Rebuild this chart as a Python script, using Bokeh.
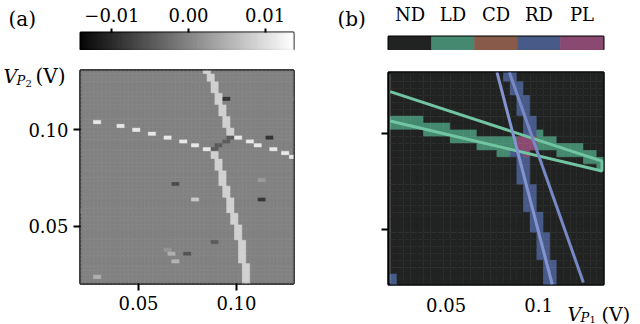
import numpy as np
from bokeh.plotting import figure
from bokeh.layouts import row, column
from bokeh.models import FixedTicker, ColumnDataSource, GridBox
from bokeh.core.properties import value
from bokeh.transform import linear_cmap
from bokeh.palettes import gray
from bokeh.embed import file_html
from bokeh.resources import INLINE

# ---------------- panel (a): measured map on a 56 x 56 grid ----------------
grid_start = 0.02      # V, first cell centre
grid_step = 0.002      # V
grid_n = 56
background_value = 0.0
cbar_low = -0.0141
cbar_high = 0.0137
cbar_ticks = [-0.01, 0.0, 0.01]
cbar_tick_labels = ["\u22120.01", "0.00", "0.01"]
axis_ticks_a = [0.05, 0.10]
axis_labels_a = ["0.05", "0.10"]

# steep transition line: 2-cell-wide segments (column index, row range)
line_col = [32, 33, 34, 35, 36, 37, 38, 34, 35, 36, 37, 38, 39, 40, 41, 42]
line_row_lo = [55, 53, 50, 47, 44, 41, 39, 33, 30, 26, 23, 19, 16, 12, 6, 0]
line_row_hi = [55, 54, 52, 49, 46, 43, 40, 34, 32, 29, 25, 22, 18, 15, 11, 5]
line_value = 0.0085

# shallow transition line: 2-cell-wide dashes (column index, row)
dash_col = [4, 10, 14, 18, 22, 26, 29, 32, 40, 43, 45, 49, 52, 54]
dash_row = [42, 41, 40, 39, 38, 37, 36, 35, 38, 37, 36, 35, 34, 33]
dash_value = 0.0112

# crossing region
cross_col = [34, 35, 37, 38]
cross_row = [35, 36, 37, 38]
cross_value = -0.0043

# isolated outliers
spot_col = [37, 48, 46, 46, 29, 34, 27, 24, 23, 24, 4, 22, 0, 55]
spot_row = [48, 38, 27, 22, 22, 11, 8, 26, 8, 6, 2, 9, 19, 48]
spot_cells = [2, 2, 2, 2, 2, 2, 2, 2, 2, 2, 2, 2, 1, 1]
spot_value = [-0.0085, -0.0085, 0.0027, -0.008, 0.0077, -0.0043, -0.005,
              -0.006, 0.005, 0.0055, 0.005, 0.002, 0.004, 0.004]

# ---------------- panel (b): classified map on a 32 x 32 grid ----------------
classes = ["ND", "LD", "CD", "RD", "PL"]
class_colors = ["#212322", "#458a70", "#875a4a", "#475a88", "#8a4970"]
b_x_start = 0.0199     # V, left edge of grid
b_y_top = 0.1344       # V, top edge of grid
b_step = 0.0036        # V
b_n = 32
# spans: (row from top, first column, last column)
ld_row = [7, 8, 8, 9, 9, 10, 10, 11, 12, 9, 10, 11, 11, 12, 12, 13, 13, 14]
ld_lo = [0, 0, 5, 5, 9, 9, 13, 13, 16, 22, 22, 22, 25, 25, 29, 29, 31, 31]
ld_hi = [4, 4, 8, 8, 12, 12, 18, 18, 17, 22, 24, 24, 28, 28, 30, 30, 31, 31]
rd_row = [0, 1, 2, 3, 4, 5, 6, 7, 8, 9, 12, 13, 14, 15, 16, 17, 18, 19, 20,
          21, 22, 23, 24, 25, 26, 27, 28, 29, 30, 31, 30, 31]
rd_lo = [17, 17, 18, 18, 19, 19, 19, 20, 20, 20, 18, 19, 19, 19, 19, 20, 20, 20, 20,
         21, 21, 21, 22, 22, 22, 22, 23, 23, 23, 23, 0, 0]
rd_hi = [18, 18, 19, 19, 20, 20, 20, 21, 21, 21, 19, 20, 20, 20, 20, 21, 21, 21, 21,
         22, 22, 22, 23, 23, 23, 23, 24, 24, 24, 24, 0, 0]
pl_row = [10, 11, 12]
pl_lo = [19, 19, 20]
pl_hi = [21, 21, 20]

# fitted lines
ld_line_vp1 = [0.0198, 0.1343, 0.1343, 0.0198]
ld_line_vp2 = [0.1221, 0.0856, 0.0804, 0.1067]
rd_line_a_vp1 = [0.0775, 0.1074]
rd_line_a_vp2 = [0.1323, 0.0209]
rd_line_b_vp1 = [0.0842, 0.1242]
rd_line_b_vp2 = [0.1323, 0.0220]
axis_ticks_b = [0.05, 0.1]
axis_labels_b = ["0.05", "0.1"]

FONT = "DejaVu Serif"
TICK_SIZE = "18px"


def base_style(p):
    p.xgrid.grid_line_color = None
    p.ygrid.grid_line_color = None
    p.outline_line_color = "black"
    p.outline_line_width = 2.5
    p.outline_line_alpha = 1.0
    p.border_fill_color = "white"


def style_axis(ax, ticks, labels, tick_out=7, show_ticks=True, standoff=5):
    ax.ticker = FixedTicker(ticks=ticks)
    ax.major_label_overrides = dict(zip(ticks, labels))
    ax.axis_line_color = None
    ax.minor_tick_line_color = None
    ax.major_tick_in = 0
    ax.major_tick_out = tick_out
    ax.major_tick_line_width = 2
    ax.major_tick_line_color = "black" if show_ticks else None
    ax.major_label_standoff = standoff
    ax.major_label_text_font = FONT
    ax.major_label_text_font_size = TICK_SIZE
    ax.major_label_text_color = "black"


# ---------- grid values (a) ----------
vals = np.full((grid_n, grid_n), background_value)
for c, lo, hi in zip(line_col, line_row_lo, line_row_hi):
    vals[lo:hi + 1, c:c + 2] = line_value
for c, r in zip(dash_col, dash_row):
    vals[r, c:c + 2] = dash_value
for c, r in zip(cross_col, cross_row):
    vals[r, c:c + 2] = cross_value
for c, r, w, v in zip(spot_col, spot_row, spot_cells, spot_value):
    vals[r, c:c + w] = v
ii, jj = np.meshgrid(np.arange(grid_n), np.arange(grid_n))
src_a = ColumnDataSource(dict(x=grid_start + ii.ravel() * grid_step,
                              y=grid_start + jj.ravel() * grid_step,
                              v=vals.ravel()))
cmap = linear_cmap("v", gray(256), cbar_low, cbar_high)

# colour bar (a)
cbA = figure(width=308, height=50, x_range=(cbar_low, cbar_high), y_range=(0, 1),
             x_axis_location="above", y_axis_location=None, toolbar_location=None,
             output_backend="svg", min_border_left=80, min_border_right=15,
             min_border_top=32, min_border_bottom=0)
base_style(cbA)
cbA.outline_line_width = 2
cb_vals = np.linspace(cbar_low, cbar_high, 256)
cbA.rect(x="v", y=0.5, width=(cbar_high - cbar_low) / 255, height=1,
         source=ColumnDataSource(dict(v=cb_vals)), fill_color=cmap, line_color=cmap,
         line_width=0.6)
style_axis(cbA.xaxis[0], cbar_ticks, cbar_tick_labels, tick_out=4, standoff=7)

# heat map (a)
heatA = figure(width=308, height=274, x_range=(0.0204, 0.1291), y_range=(0.0204, 0.1305),
               toolbar_location=None, output_backend="svg",
               min_border_left=80, min_border_right=15, min_border_top=20, min_border_bottom=41)
base_style(heatA)
heatA.rect(x="x", y="y", width=grid_step, height=grid_step, source=src_a,
           fill_color=cmap, line_color=cmap, line_width=0.6)
style_axis(heatA.xaxis[0], axis_ticks_a, axis_labels_a)
style_axis(heatA.yaxis[0], axis_ticks_a, axis_labels_a)

# ---------- class grid (b) ----------
cls = np.zeros((b_n, b_n), dtype=int)
for code, rows_, los, his in ((1, ld_row, ld_lo, ld_hi), (3, rd_row, rd_lo, rd_hi),
                              (4, pl_row, pl_lo, pl_hi)):
    for r, lo, hi in zip(rows_, los, his):
        cls[r, lo:hi + 1] = code
kk, mm = np.meshgrid(np.arange(b_n), np.arange(b_n), indexing="ij")
cell_colors = [class_colors[c] for c in cls.ravel()]
src_b = ColumnDataSource(dict(x=b_x_start + (mm.ravel() + 0.5) * b_step,
                              y=b_y_top - (kk.ravel() + 0.5) * b_step,
                              c=cell_colors))

cbB = figure(width=332, height=50, x_range=(0, 5), y_range=(0, 1),
             x_axis_location="above", y_axis_location=None, toolbar_location=None,
             output_backend="svg", min_border_left=80, min_border_right=37,
             min_border_top=32, min_border_bottom=0)
base_style(cbB)
cbB.outline_line_width = 2
cbB.rect(x=[i + 0.5 for i in range(len(classes))], y=0.5, width=1, height=1,
         fill_color=class_colors, line_color=class_colors, line_width=0.6)
style_axis(cbB.xaxis[0], [i + 0.5 for i in range(len(classes))], classes, tick_out=4,
           show_ticks=False, standoff=8)

heatB = figure(width=332, height=274, x_range=(0.0189, 0.1351), y_range=(0.0209, 0.1321),
               toolbar_location=None, output_backend="svg",
               min_border_left=80, min_border_right=37, min_border_top=22, min_border_bottom=40)
base_style(heatB)
heatB.rect(x="x", y="y", width=b_step, height=b_step, source=src_b,
           fill_color="c", line_color="c", line_width=0.6)
heatB.line(ld_line_vp1, ld_line_vp2, line_color="#72c5a2", line_width=3)
heatB.line(rd_line_a_vp1, rd_line_a_vp2, line_color="#8494d0", line_width=3)
heatB.line(rd_line_b_vp1, rd_line_b_vp2, line_color="#7888c4", line_width=3)
style_axis(heatB.xaxis[0], axis_ticks_b, axis_labels_b, tick_out=8, show_ticks=False)
style_axis(heatB.yaxis[0], axis_ticks_a, ["", ""])

main = row(column(cbA, heatA), column(cbB, heatB))

# ---------- transparent overlay carrying panel letters and axis names ----------
ov = figure(width=640, height=324, x_range=(0, 640), y_range=(324, 0), title=None,
            x_axis_location=None, y_axis_location=None, toolbar_location=None,
            output_backend="svg", min_border=0)
ov.xgrid.grid_line_color = None
ov.ygrid.grid_line_color = None
ov.outline_line_color = None
ov.background_fill_color = None
ov.border_fill_color = None


def ov_text(x, y, txt, size, style="normal"):
    ov.text(x=[x], y=[y], text=[txt], text_font=value(FONT), text_font_size=value(size),
            text_font_style=style, text_color="black", text_baseline="alphabetic",
            text_align="left")


ov_text(8, 18, "(a)", "20px")
ov_text(337, 18, "(b)", "20px")
# V_{P_2} (V)
ov_text(3, 75, "V", "19px", "italic")
ov_text(16, 80, "P", "13px", "italic")
ov_text(25, 83, "2", "10px")
ov_text(35, 75, "(V)", "20px")
# V_{P_1} (V)
ov_text(567, 313, "V", "19px", "italic")
ov_text(580, 317, "P", "13px", "italic")
ov_text(589, 319, "1", "10px")
ov_text(601, 313, "(V)", "19px")

layout = GridBox(children=[(main, 0, 0), (ov, 0, 0)])
open("out.html", "w").write(file_html(layout, INLINE))
